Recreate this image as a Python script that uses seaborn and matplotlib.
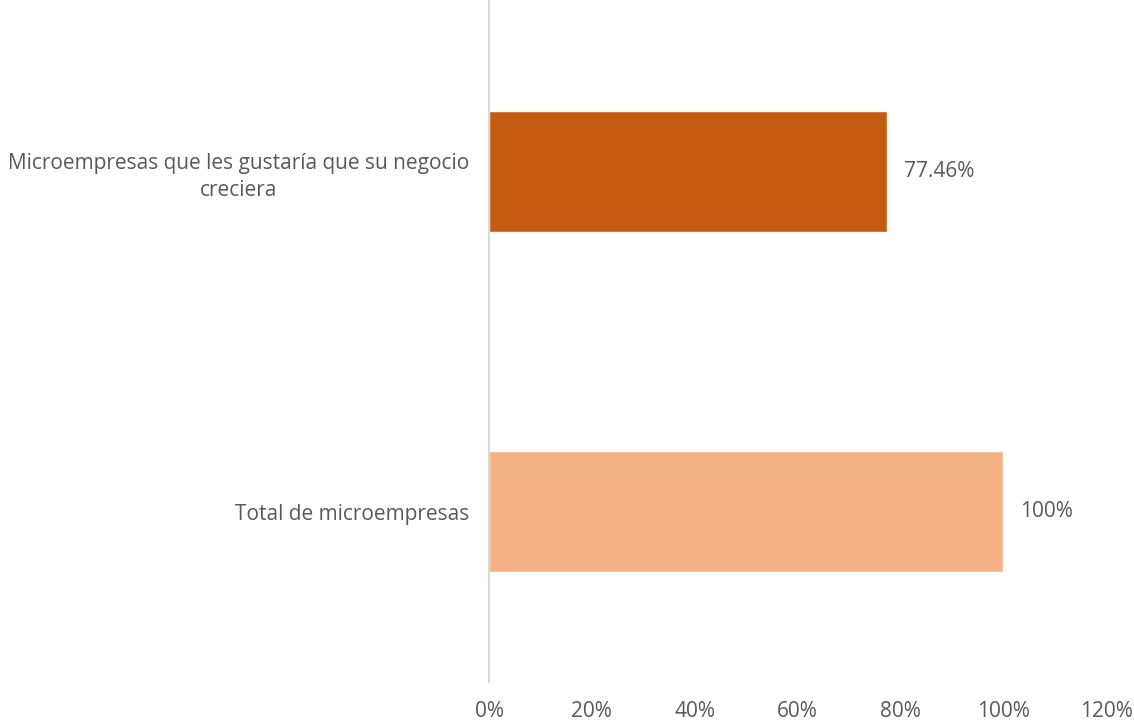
import matplotlib
matplotlib.use("Agg")
import matplotlib.pyplot as plt
import seaborn as sns
import pandas as pd

categories = [
    "Microempresas que les gustaría que su negocio\ncreciera",
    "Total de microempresas",
]
values = [77.46, 100.0]
value_labels = ["77.46%", "100%"]
bar_colors = ["#C55A11", "#F4B183"]
x_ticks = [0, 20, 40, 60, 80, 100, 120]
x_tick_labels = ["0%", "20%", "40%", "60%", "80%", "100%", "120%"]

sns.set_theme(style="white")
plt.rcParams["font.family"] = ["Open Sans", "DejaVu Sans"]
text_color = "#595959"
fs = 15

df = pd.DataFrame({"categoria": categories, "valor": values})

fig = plt.figure(figsize=(11.34, 7.23), dpi=100)
ax = fig.add_axes([489 / 1134, 1 - 682 / 723, (1106 - 489) / 1134, 681 / 723])

sns.barplot(data=df, y="categoria", x="valor", hue="categoria",
            palette=bar_colors, orient="h", width=0.355, legend=False,
            saturation=1, ax=ax)

ax.set_xlim(0, 120)
ax.set_ylim(1.5, -0.5)
ax.set_xticks(x_ticks)
ax.set_xticklabels(x_tick_labels)
ax.set_xlabel("")
ax.set_ylabel("")

for i, (v, lab) in enumerate(zip(values, value_labels)):
    ax.annotate(lab, xy=(v, i), xytext=(12, 0), textcoords="offset points",
                ha="left", va="center", fontsize=fs, color=text_color)

for lab in ax.get_yticklabels():
    lab.set_multialignment("center")
    lab.set_linespacing(1.4)
ax.tick_params(axis="y", length=0, pad=14, labelsize=fs, labelcolor=text_color)
ax.tick_params(axis="x", length=0, pad=14, labelsize=fs, labelcolor=text_color)

for side in ["top", "right", "bottom"]:
    ax.spines[side].set_visible(False)
ax.spines["left"].set_color("#D9D9D9")
ax.spines["left"].set_linewidth(1.5)

fig.savefig("out.png", dpi=100, facecolor="white")
